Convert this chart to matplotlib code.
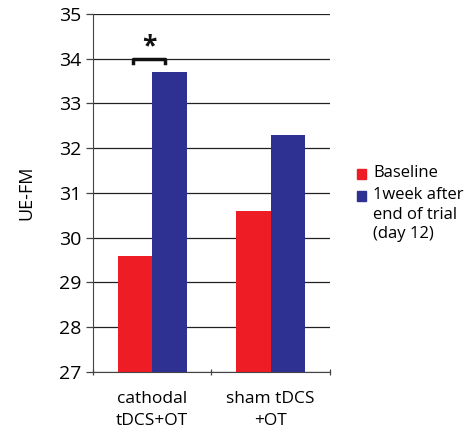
import numpy as np
from matplotlib import pyplot as plt
from matplotlib.patches import Rectangle

plt.rcParams['font.family'] = ['Open Sans', 'DejaVu Sans']

groups = ["cathodal\ntDCS+OT", "sham tDCS\n+OT"]
baseline = [29.6, 30.6]
week_after = [33.7, 32.3]
series_names = ["Baseline", "1week after\nend of trial\n(day 12)"]
colors = ["#ee1c25", "#2e3192"]

fig = plt.figure(figsize=(4.74, 4.32), dpi=100)
ax = fig.add_axes([0.196, 0.139, 0.5, 0.829])

x = np.arange(len(groups)) + 0.5
w = 0.29
ax.bar(x - w/2, np.array(baseline) - 27, w, bottom=27, color=colors[0],
       zorder=3)
ax.bar(x + w/2, np.array(week_after) - 27, w, bottom=27, color=colors[1],
       zorder=3)

ax.set_xlim(0, 2)
ax.set_ylim(27, 35)
ax.set_yticks(np.arange(27, 36, 1))
ax.yaxis.grid(True, color="#222222", linewidth=0.9, zorder=0)
ax.tick_params(axis="y", labelsize=14, length=5, width=0.9, color="#444444")

ax.set_xticks([0, 1, 2])
ax.set_xticklabels(["", "", ""])
ax.set_xticks(x, minor=True)
ax.set_xticklabels(groups, minor=True, fontsize=12.5, linespacing=1.5)
ax.tick_params(axis="x", which="major", length=5, width=0.9, direction="inout",
               color="#444444")
ax.tick_params(axis="x", which="minor", length=0, pad=14)

for side in ["top", "right"]:
    ax.spines[side].set_visible(False)
ax.spines["left"].set_color("#444444")
ax.spines["bottom"].set_color("#444444")

ax.set_ylabel("UE-FM", fontsize=13, labelpad=17)

# significance bracket
x1, x2 = 0.34, 0.61
ax.plot([x1, x1, x2, x2], [33.9, 34.0, 34.0, 33.9], color="#111111",
        linewidth=2.5, zorder=4, solid_joinstyle="round")
ax.text((x1 + x2) / 2, 33.97, "*", ha="center", va="bottom", fontsize=19,
        fontweight="bold", color="#111111")

# legend, drawn by hand so the swatch sits on the first text line
leg_y = [174, 196]
for name, c, yy in zip(series_names, colors, leg_y):
    fy = 1 - yy / 432
    fig.patches.append(Rectangle((357 / 474, fy - 4.5 / 432), 9 / 474, 9 / 432,
                                 transform=fig.transFigure, color=c))
    fig.text(373 / 474, fy + 9 / 432, name, ha="left", va="top", fontsize=12,
             linespacing=1.3)

plt.savefig("out.png", dpi=100)
